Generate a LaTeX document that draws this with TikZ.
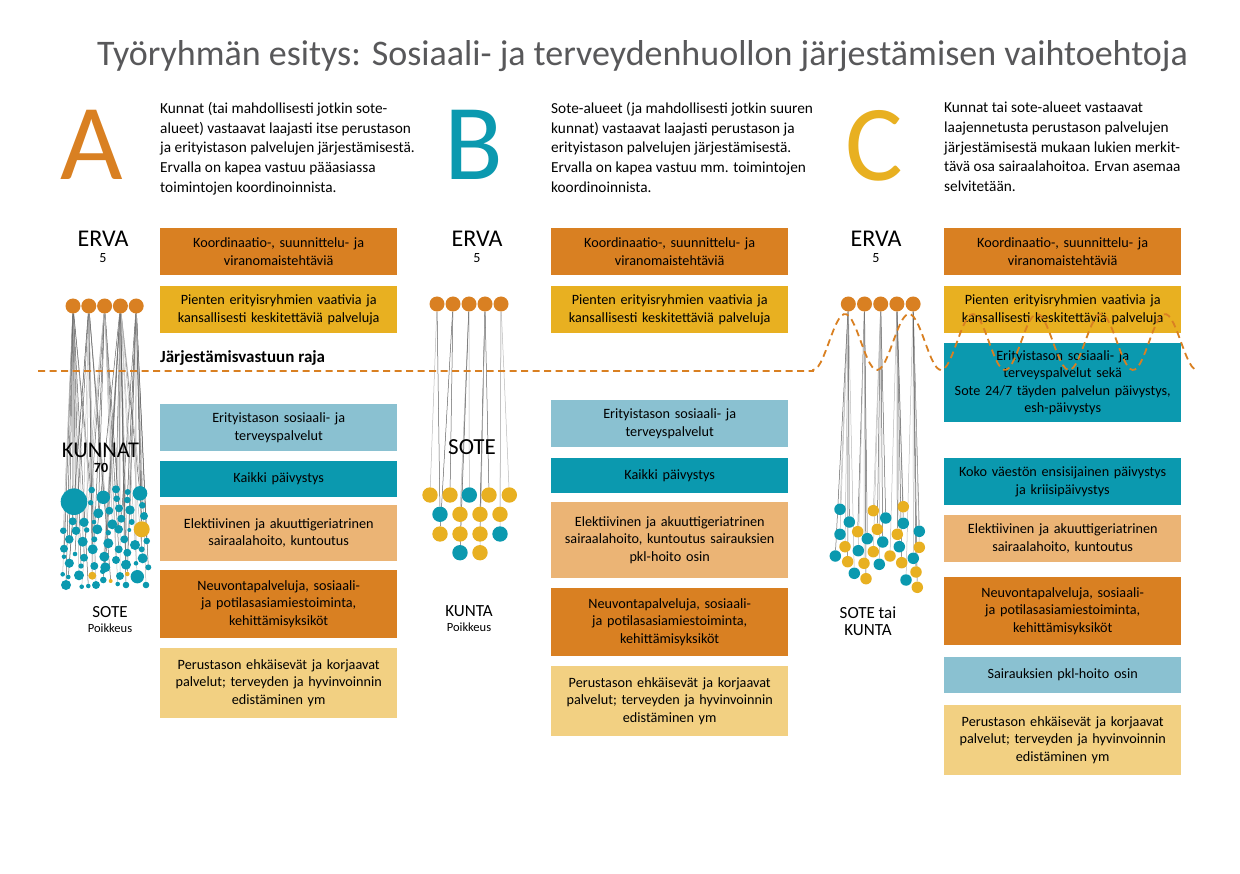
\documentclass[tikz,border=0pt]{standalone}
\usepackage{fontspec}
\setmainfont{Carlito}
\usetikzlibrary{positioning, backgrounds}

\definecolor{ervaor}{HTML}{D98022}
\definecolor{ke}{HTML}{E8B021}
\definecolor{vaaleans}{HTML}{8AC1D1}
\definecolor{tu}{HTML}{0B99AF}
\definecolor{persikka}{HTML}{EBB475}
\definecolor{vaaleakel}{HTML}{F2D082}
\definecolor{otsikkov}{HTML}{58585A}

\begin{document}
\begin{tikzpicture}[
    x=1pt, y=-1pt,
    every node/.style={font=\fontsize{14.2}{17.5}\selectfont, inner sep=0pt},
    box/.style={minimum width=237pt, text width=230pt, align=center, anchor=north west},
    koord/.style={box, fill=ervaor},
    pienet/.style={box, fill=ke},
    erit/.style={box, fill=vaaleans},
    paiv/.style={box, fill=tu},
    elekt/.style={box, fill=persikka},
    perus/.style={box, fill=vaaleakel},
    hub/.style={circle, fill=ervaor, minimum size=15pt},
    dot/.style={circle},
    link/.style={line width=0.5pt, black!28},
    linkdark/.style={line width=0.5pt, black!62},
    raja/.style={ervaor, line width=1.8pt, dash pattern=on 7pt off 4.5pt},
    kirjain/.style={font=\fontsize{108}{108}\selectfont, anchor=base},
    desc/.style={font=\fontsize{15.3}{19.7}\selectfont, align=left, anchor=north west},
    erva/.style={font=\fontsize{24}{25}\selectfont, anchor=base},
    pieni/.style={font=\fontsize{14}{15}\selectfont, anchor=base},
    alla/.style={font=\fontsize{17}{18}\selectfont, anchor=base},
    poikkeus/.style={font=\fontsize{12.5}{13}\selectfont, anchor=base}
]
\useasboundingbox (0,0) rectangle (1240,874);

% Title
\node[anchor=base west, font=\fontsize{36}{40}\selectfont, text=otsikkov] (otsikko) at (97,66)
    {Työryhmän esitys: Sosiaali- ja terveydenhuollon järjestämisen vaihtoehtoja};

% Letters
\node[kirjain, text=ervaor] (kirjA) at (92,180) {A};
\node[kirjain, text=tu] (kirjB) at (474,180) {B};
\node[kirjain, text=ke] (kirjC) at (874,181) {C};

% Descriptions
\node[desc] (kuvausA) at (160,102) {Kunnat (tai mahdollisesti jotkin sote-\\alueet) vastaavat laajasti itse perustason\\ja erityistason palvelujen järjestämisestä.\\Ervalla on kapea vastuu pääasiassa\\toimintojen koordinoinnista.};
\node[desc] (kuvausB) at (551,102) {Sote-alueet (ja mahdollisesti jotkin suuren\\kunnat) vastaavat laajasti perustason ja\\erityistason palvelujen järjestämisestä.\\Ervalla on kapea vastuu mm. toimintojen\\koordinoinnista.};
\node[desc] (kuvausC) at (944,102) {Kunnat tai sote-alueet vastaavat\\laajennetusta perustason palvelujen\\järjestämisestä mukaan lukien merkit-\\tävä osa sairaalahoitoa. Ervan asemaa\\selvitetään.};

% ERVA labels
\node[erva] (ervaA) at (103,247) {ERVA};
\node[pieni] (ervaA5) at (103,263) {5};
\node[erva] (ervaB) at (477,247) {ERVA};
\node[pieni] (ervaB5) at (477,263) {5};
\node[erva] (ervaC) at (876,247) {ERVA};
\node[pieni] (ervaC5) at (876,263) {5};

% Column A boxes
\node[koord, minimum height=47] (a1) at (160,228) {Koordinaatio-, suunnittelu- ja\\viranomaistehtäviä};
\node[pienet, minimum height=47] (a2) at (160,286) {Pienten erityisryhmien vaativia ja\\kansallisesti keskitettäviä palveluja};
\node[erit, minimum height=47] (a3) at (160,404) {Erityistason sosiaali- ja\\terveyspalvelut};
\node[paiv, minimum height=36] (a4) at (160,461) {Kaikki päivystys};
\node[elekt, minimum height=56] (a5) at (160,505) {Elektiivinen ja akuuttigeriatrinen\\sairaalahoito, kuntoutus};
\node[koord, minimum height=68] (a6) at (160,570) {Neuvontapalveluja, sosiaali-\\ja potilasasiamiestoiminta,\\kehittämisyksiköt};
\node[perus, minimum height=70] (a7) at (160,648) {Perustason ehkäisevät ja korjaavat\\palvelut; terveyden ja hyvinvoinnin\\edistäminen ym};

% Column B boxes
\node[koord, minimum height=47] (b1) at (551,228) {Koordinaatio-, suunnittelu- ja\\viranomaistehtäviä};
\node[pienet, minimum height=47] (b2) at (551,286) {Pienten erityisryhmien vaativia ja\\kansallisesti keskitettäviä palveluja};
\node[erit, minimum height=47] (b3) at (551,400) {Erityistason sosiaali- ja\\terveyspalvelut};
\node[paiv, minimum height=35] (b4) at (551,458) {Kaikki päivystys};
\node[elekt, minimum height=76] (b5) at (551,502) {Elektiivinen ja akuuttigeriatrinen\\sairaalahoito, kuntoutus sairauksien\\pkl-hoito osin};
\node[koord, minimum height=68] (b6) at (551,588) {Neuvontapalveluja, sosiaali-\\ja potilasasiamiestoiminta,\\kehittämisyksiköt};
\node[perus, minimum height=70] (b7) at (551,666) {Perustason ehkäisevät ja korjaavat\\palvelut; terveyden ja hyvinvoinnin\\edistäminen ym};

% Column C boxes
\node[koord, minimum height=47] (c1) at (944,228) {Koordinaatio-, suunnittelu- ja\\viranomaistehtäviä};
\node[pienet, minimum height=47] (c2) at (944,286) {Pienten erityisryhmien vaativia ja\\kansallisesti keskitettäviä palveluja};
\node[paiv, minimum height=79] (c3) at (944,343) {Erityistason sosiaali- ja\\terveyspalvelut sekä\\Sote 24/7 täyden palvelun päivystys,\\esh-päivystys};
\node[paiv, minimum height=47] (c4) at (944,458) {Koko väestön ensisijainen päivystys\\ja kriisipäivystys};
\node[elekt, minimum height=47] (c5) at (944,515) {Elektiivinen ja akuuttigeriatrinen\\sairaalahoito, kuntoutus};
\node[koord, minimum height=68] (c6) at (944,577) {Neuvontapalveluja, sosiaali-\\ja potilasasiamiestoiminta,\\kehittämisyksiköt};
\node[erit, minimum height=36] (c7) at (944,657) {Sairauksien pkl-hoito osin};
\node[perus, minimum height=70] (c8) at (944,705) {Perustason ehkäisevät ja korjaavat\\palvelut; terveyden ja hyvinvoinnin\\edistäminen ym};

% Hub circles
\foreach \k in {1,...,5} {
    \node[hub] (ea\k) at ({73+15.8*(\k-1)},306) {};
    \node[hub] (eb\k) at ({437+16*(\k-1)},304) {};
    \node[hub] (ec\k) at ({848.3+16.2*(\k-1)},304) {};
}

% Column A: municipalities
\def\kunnatA{74/501.7/13.3/tu, 91.7/490/3.3/tu, 103.3/497.3/6.7/tu, 116/489.3/4/tu, 127.7/492/3/tu, 140/493.3/7.3/tu, 116.7/498.7/3.3/tu, 127.3/500/3.3/tu, 90.7/502.7/2.7/tu, 98.3/513.3/5/tu, 109.3/510.7/4/tu, 119/508.3/4/tu, 130/510/4.7/tu, 142.3/505.3/3.3/tu, 144/516/4/tu, 72.7/521.3/4/tu, 84/522.3/4.7/tu, 94/522/2.3/tu, 112.3/524.3/5/tu, 121.3/518.7/4/tu, 131.7/522/3/tu, 141.7/529.3/8/ke, 63.3/530.7/3.3/tu, 76/530.7/4.3/tu, 86.7/530/2.7/tu, 97.3/529.3/5/tu, 108.3/532.7/2.7/tu, 118.7/529.3/4.3/tu, 129.3/530/2/tu, 69.3/539.3/4.3/tu, 82.7/541.7/5/tu, 94.3/539.3/3/tu, 108.3/543.3/5/tu, 124.3/539.3/4/tu, 135/545/5/tu, 146.7/541/3.3/tu, 64/548.7/4/tu, 75/554/2.3/tu, 84/557.7/4/tu, 92.7/549.3/5/tu, 104.3/556.7/5/tu, 118.7/549.3/4/tu, 127.3/552.7/4/tu, 141.7/549.3/3/tu, 142.7/558.3/5/tu, 64/556.7/2.3/tu, 69.3/563.2/4.6/tu, 81/566/2.7/tu, 94.3/566/4/tu, 105.3/567.3/5/tu, 116/560/4/tu, 126/564.7/5/tu, 136/563.3/2.3/tu, 148.3/567.3/3/tu, 62.7/574.3/2.3/tu, 68.3/577/2.3/tu, 79/575.3/5/tu, 92.3/575.7/4/ke, 102.7/571.3/2.7/tu, 110.7/581/2/ke, 120/576/4/tu, 127.3/574/2.3/ke, 137.3/576.7/6.7/tu, 66/585/5/tu, 81.7/586.7/2.3/tu, 88.3/586/2.3/tu, 96/585/4/tu, 103.3/580/3.3/tu, 117.7/584/2.3/tu, 126/585/3.3/tu, 146/585/3.3/tu}

\foreach \x/\y/\r/\c [count=\i] in \kunnatA {
    \node[dot, fill=\c, minimum size=2*\r] (ka\i) at (\x,\y) {};
}
\begin{scope}[on background layer]
\foreach \x/\y/\r/\c [count=\i] in \kunnatA {
    \pgfmathtruncatemacro{\h}{min(5,max(1,round((\x-73)/15.8)+mod(\i,3)))}
    \ifodd\i
        \draw[link] (ea\h) -- (ka\i);
    \else
        \draw[linkdark] (ea\h) -- (ka\i);
    \fi
}
\end{scope}

% Column B: sote areas
\def\soteB{430/495/ke/1, 450/495/ke/2, 469.3/495/tu/3, 489/495/ke/4, 509.3/495/ke/5, 440/514.3/tu/1, 460/514.3/ke/3, 480/514.3/ke/4, 500/514.3/ke/5, 440/534/ke/2, 460/534/ke/3, 480/534/ke/4, 500/534/tu/5, 460/552.7/tu/3, 480/552.7/ke/4}

\foreach \x/\y/\c/\h [count=\i] in \soteB {
    \node[dot, fill=\c, minimum size=15.4] (sb\i) at (\x,\y) {};
}
\begin{scope}[on background layer]
\foreach \x/\y/\c/\h [count=\i] in \soteB {
    \ifodd\i
        \draw[link] (eb\h) -- (sb\i);
    \else
        \draw[linkdark] (eb\h) -- (sb\i);
    \fi
}
\end{scope}

% Column C: sote or municipality
\def\soteC{840/509.3/tu, 849.3/522/tu, 840/534.3/tu, 857.7/531.7/ke, 845/546.7/ke, 835.3/556/tu, 858.3/550.7/tu, 847.7/561.7/ke, 854.3/573.3/tu, 866/578.7/ke, 864/563.3/ke, 867.3/538.7/tu, 873.3/510.7/ke, 877.3/529.3/ke, 873.3/551.7/ke, 882.7/542/tu, 879.3/564.3/tu, 885.7/518/tu, 890/556/ke, 897.3/534.3/ke, 903.3/506.7/ke, 903.3/523.3/tu, 899.3/546.7/tu, 901.7/562.7/ke, 913.3/558.3/tu, 919.3/531.3/tu, 919.3/547.3/ke, 916/572/ke, 906/580/tu, 917.3/587.3/ke}

\foreach \x/\y/\c [count=\i] in \soteC {
    \node[dot, fill=\c, minimum size=11.5] (sc\i) at (\x,\y) {};
}
\begin{scope}[on background layer]
\foreach \x/\y/\c [count=\i] in \soteC {
    \pgfmathtruncatemacro{\h}{min(5,max(1,round((\x-848.3)/16.2)+1))}
    \ifodd\i
        \draw[link] (ec\h) -- (sc\i);
    \else
        \draw[linkdark] (ec\h) -- (sc\i);
    \fi
}
\end{scope}

% Labels in the columns
\node[erva, font=\fontsize{22.5}{24}\selectfont] (kunnat) at (100.5,457) {KUNNAT};
\node[pieni, font=\fontsize{14}{15}\selectfont\bfseries] (kunnat70) at (101,472) {70};
\node[erva, font=\fontsize{23}{24}\selectfont] (soteB) at (472,455) {SOTE};

\node[alla] (alaA) at (110,617) {SOTE};
\node[poikkeus] (alaA2) at (110,632) {Poikkeus};
\node[alla] (alaB) at (469,616) {KUNTA};
\node[poikkeus] (alaB2) at (469,631) {Poikkeus};
\node[alla] (alaC) at (868,618) {SOTE tai};
\node[alla] (alaC2) at (868,635) {KUNTA};

% Border of responsibility
\node[anchor=base west, font=\fontsize{17}{18}\selectfont\bfseries] (raja) at (160,363) {Järjestämisvastuun raja};
\draw[raja] (38,371) -- (813,371)
    -- plot[domain=813:1197, samples=150] (\x, {342-28*cos(5.625*(\x-845))});

\end{tikzpicture}
\end{document}
